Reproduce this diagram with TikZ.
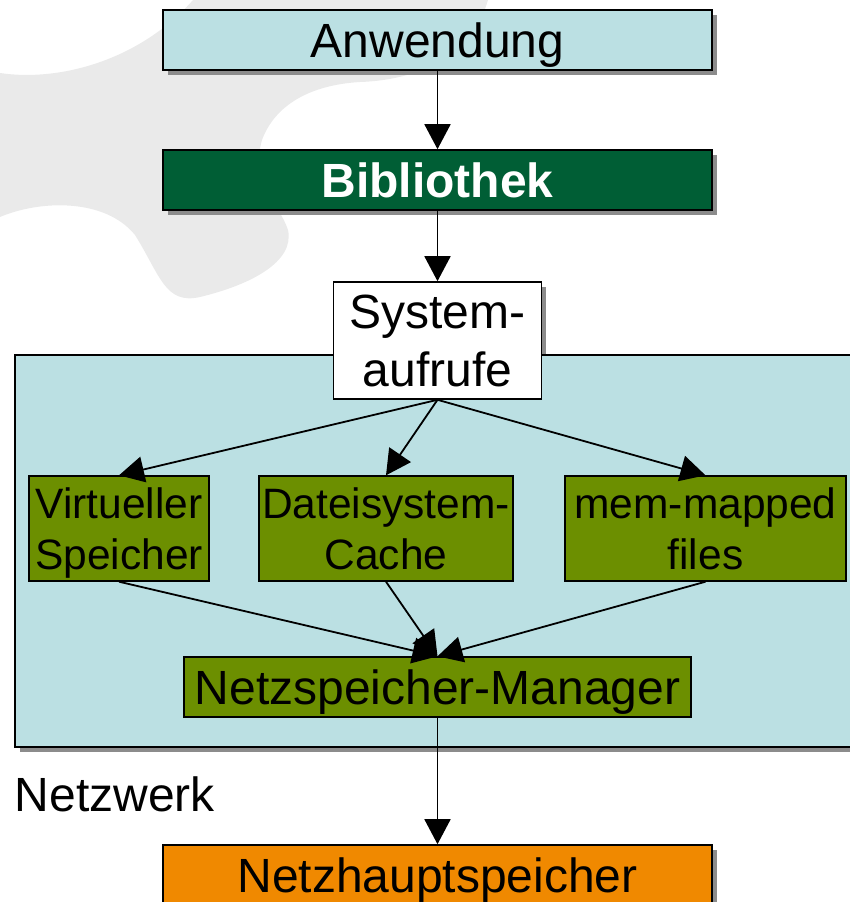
\documentclass[tikz,border=0pt]{standalone}
\usepackage{fontspec}
\setmainfont{Liberation Sans}
\usetikzlibrary{arrows.meta,shadows}
\definecolor{cyanc}{RGB}{187,224,227}
\definecolor{darkgreenc}{RGB}{0,94,53}
\definecolor{olivec}{RGB}{108,143,0}
\definecolor{orangec}{RGB}{240,137,0}
\definecolor{shadowc}{RGB}{140,140,140}
\definecolor{blobc}{RGB}{234,234,234}
\newcommand\fbig{\fontsize{48}{57.6}\selectfont}
\newcommand\fsmall{\fontsize{42.5}{51}\selectfont}
\tikzset{
  box/.style={draw=black, line width=1.6pt, inner sep=0pt, font=\fbig, text height=34.4pt, text depth=0pt},
  shbox/.style={box, drop shadow={shadow xshift=5pt, shadow yshift=-5pt, fill=shadowc, opacity=1}},
  gbox/.style={draw=black, line width=1.4pt, inner sep=0pt, fill=olivec, font=\fsmall},
  arr/.style={-{Triangle[width=26pt,length=25pt]}, line width=1.8pt}
}
\begin{document}
\begin{tikzpicture}[x=1pt,y=-1pt]
\useasboundingbox (0,0) rectangle (850,902);
\clip (0,0) rectangle (850,902);
% background blob
\fill[blobc] (193,0) .. controls (140,60) and (60,82) .. (0,73)
  -- (0,217) .. controls (40,200) and (105,198) .. (135,235)
  .. controls (160,275) and (165,305) .. (200,297)
  .. controls (250,285) and (295,262) .. (288,230)
  .. controls (280,205) and (250,180) .. (262,140)
  .. controls (275,105) and (310,85) .. (360,82)
  .. controls (420,80) and (472,55) .. (488,0) -- cycle;
% top boxes
\node[shbox, fill=cyanc, minimum width=549pt, minimum height=60pt] (anw) at (437.5,40) {Anwendung};
\node[shbox, fill=darkgreenc, text=white, font=\fbig\bfseries, minimum width=549pt, minimum height=60pt] (bib) at (437.5,180) {Bibliothek};
% shadow of system call box (below the panel)
\fill[shadowc] (338,287) rectangle (546,404);
% panel
\fill[shadowc] (20,360) rectangle (900,752);
\filldraw[fill=cyanc, draw=black, line width=1.4pt] (15,355) rectangle (900,747);
\node[box, fill=white, minimum width=208pt, minimum height=117pt, text height=91.4pt] (sys) at (437.5,340.5)
  {\begin{tabular}[b]{@{}c@{}}System-\\aufrufe\end{tabular}};
% green boxes
\node[gbox, minimum width=180pt, minimum height=105pt, text height=81.4pt, text depth=0pt] (virt) at (119,528.5)
  {\begin{tabular}[b]{@{}c@{}}Virtueller\\Speicher\end{tabular}};
\node[gbox, minimum width=254pt, minimum height=105pt, text height=81.4pt, text depth=0pt] (dat) at (386,528.5)
  {\begin{tabular}[b]{@{}c@{}}Dateisystem-\\Cache\end{tabular}};
\node[gbox, minimum width=281pt, minimum height=105pt, text height=81.4pt, text depth=0pt] (mem) at (705.5,528.5)
  {\begin{tabular}[b]{@{}c@{}}mem-mapped\\files\end{tabular}};
\node[gbox, font=\fbig, minimum width=507pt, minimum height=60pt, text height=34.4pt, text depth=0pt] (nsm) at (437.5,687) {Netzspeicher-Manager};
% network
\node[inner sep=0pt, anchor=base west, font=\fbig] (netz) at (14.7,811.7) {Netzwerk};
\node[shbox, fill=orangec, minimum width=549pt, minimum height=60pt] (nhs) at (437.5,875) {Netzhauptspeicher};
% connectors
\draw[arr] (anw) -- (bib);
\draw[arr] (bib) -- (sys);
\draw[arr] (sys.south) -- (virt.north);
\draw[arr] (sys.south) -- (dat.north);
\draw[arr] (sys.south) -- (mem.north);
\draw[arr] (virt.south) -- (nsm.north);
\draw[arr] (dat.south) -- (nsm.north);
\draw[arr] (mem.south) -- (nsm.north);
\draw[arr] (nsm) -- (nhs);
\end{tikzpicture}
\end{document}
